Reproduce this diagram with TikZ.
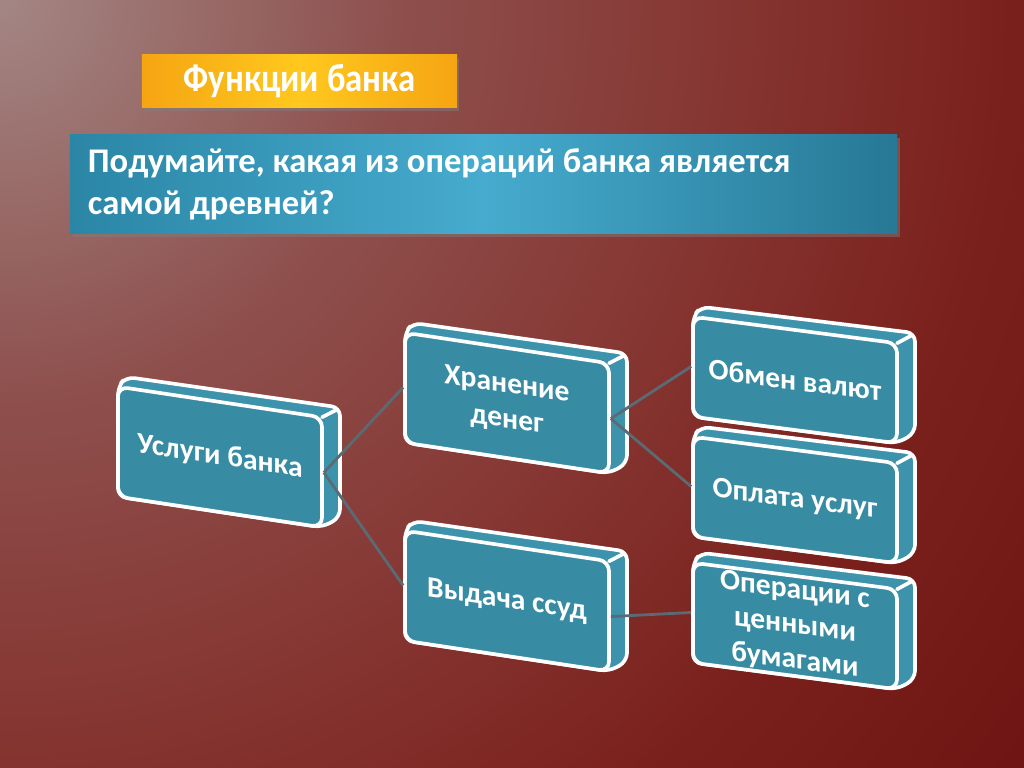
\documentclass[tikz,border=0pt]{standalone}
\usepackage{fontspec}
\setmainfont{Carlito}
\usepackage{xcolor}
\usepackage{graphicx}
\usetikzlibrary{calc,positioning,shadows}

\definecolor{bgA}{HTML}{A38684}
\definecolor{bgB}{HTML}{8E504D}
\definecolor{bgC}{HTML}{853430}
\definecolor{bgD}{HTML}{7A201C}
\definecolor{bgE}{HTML}{6C1412}
\definecolor{bgF}{HTML}{6A0F0C}
\definecolor{titleorange}{HTML}{F5A512}
\definecolor{titleyellow}{HTML}{FFC81E}
\definecolor{questA}{HTML}{2B86A6}
\definecolor{questB}{HTML}{46ABCE}
\definecolor{blockfront}{HTML}{378BA3}
\definecolor{blockside}{HTML}{3D93AB}
\definecolor{linegray}{HTML}{5B6B73}

\pgfdeclareradialshading{bgshade}{\pgfpoint{0bp}{0bp}}{color(0bp)=(bgA); color(9bp)=(bgB); color(17bp)=(bgC); color(23bp)=(bgD); color(30bp)=(bgE); color(41bp)=(bgF); color(50bp)=(bgF)}

\tikzset{
  titlebox/.style={left color=titleorange, right color=titleorange, middle color=titleyellow,
    minimum width=7.875cm, minimum height=1.325cm, inner sep=0pt, text=white,
    font=\fontsize{28}{30}\selectfont\bfseries,
    drop shadow={shadow xshift=1.5pt, shadow yshift=-2pt, opacity=0.45}},
  questbox/.style={left color=questA, right color=questA!90!black, middle color=questB,
    minimum width=20.675cm, minimum height=2.45cm, inner xsep=0.45cm, text width=19.775cm,
    align=flush left, text=white, font=\fontsize{24.6}{30}\selectfont\bfseries,
    drop shadow={shadow xshift=2pt, shadow yshift=-2.5pt, opacity=0.45}},
  blockface/.style={draw=white, line width=2.6pt, fill=blockfront, rounded corners=7pt,
    minimum width=5.1cm, inner sep=2pt, align=center, text=white, transform shape,
    font=\fontsize{21}{25}\selectfont\bfseries},
  blockside/.style={draw=white, line width=2.6pt, fill=blockside, rounded corners=6pt,
    line join=round},
  blockedge/.style={draw=white, line width=2.6pt, line cap=round},
  conn/.style={draw=linegray, line width=2pt}
}

% #1 name, #2 centre, #3 half height, #4 slant, #5 text
\newcommand{\bankblock}[5]{%
  \begin{scope}[shift={#2}, yslant=#4]
    \path[blockside] (-102,#3) -- (-94,#3+11) -- (120,#3+12.5) -- (120,-#3+12.5)
      -- (102,-#3) -- (-102,-#3) -- cycle;
    \node[blockface, minimum height=#3*0.05cm] (#1) at (0,0) {#5};
    \draw[blockedge] (102,#3) -- (117,#3+10);
  \end{scope}}

\begin{document}
\begin{tikzpicture}[x=0.025cm,y=0.025cm]
\begin{scope}
  \clip (0,0) rectangle (1024,768);
  \shade[shading=bgshade] (-1100,-332) rectangle (1100,1868);
\end{scope}
\useasboundingbox (0,0) rectangle (1024,768);

\node[titlebox] (title) at (299.5,686.5) {\scalebox{0.88}[1]{Функции банка}};
\node[questbox] (quest) at (483.5,584) {Подумайте, какая из операций банка является\\самой древней?};

\bankblock{usl}{(220,311)}{55}{-0.15}{Услуги банка}
\bankblock{hran}{(507,365)}{55}{-0.15}{Хранение\\денег}
\bankblock{vyd}{(507,167)}{55}{-0.15}{Выдача ссуд}
\bankblock{obmen}{(795,388)}{50}{-0.13}{Обмен валют}
\bankblock{oplata}{(795,268)}{50}{-0.13}{Оплата услуг}
\bankblock{oper}{(795,142)}{50}{-0.13}{Операции с\\ценными\\бумагами}

\draw[conn] (usl.east) -- (hran.west);
\draw[conn] (usl.east) -- (vyd.west);
\draw[conn] (hran.east) -- (obmen.west);
\draw[conn] (hran.east) -- (oplata.west);
\draw[conn] (vyd.east) -- (oper.west);
\end{tikzpicture}
\end{document}
